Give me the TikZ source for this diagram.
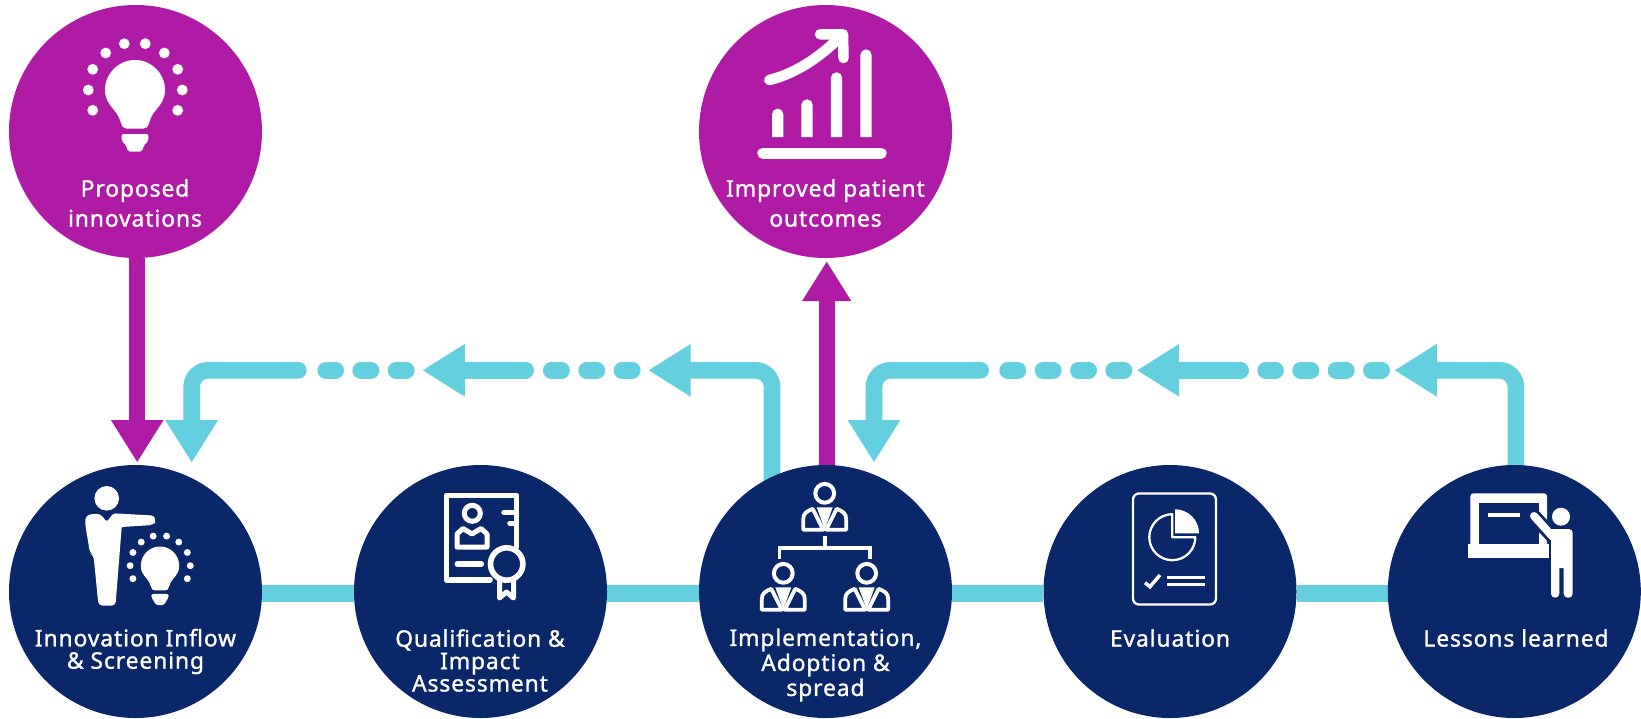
\documentclass[tikz,border=0pt]{standalone}
\usepackage{fontspec}
\setmainfont{Noto Sans}[LetterSpace=4,FakeBold=1.2]
\usetikzlibrary{arrows.meta,backgrounds}
\definecolor{magentaC}{HTML}{B01BA6}
\definecolor{navyC}{HTML}{092769}
\definecolor{tealC}{HTML}{63CFDF}
\tikzset{
  bubble/.style={circle,draw=none,minimum size=253pt,inner sep=0pt},
  magbubble/.style={bubble,fill=magentaC},
  navybubble/.style={bubble,fill=navyC},
  lab/.style={text=white,font=\fontsize{22.8pt}{#1}\selectfont,align=center,inner sep=0pt},
  lab/.default=22.4pt,
  headtip/.style={-{Triangle[length=42.5pt,width=49.5pt]}},
  tealline/.style={draw=tealC,line width=16.6pt},
  maglink/.style={draw=magentaC,line width=16.4pt,headtip},
  retlink/.style={tealline,headtip,line cap=round,rounded corners=16.5pt},
  dotrun/.style={tealline,line cap=round,dash pattern=on 10.3pt off 25.05pt},
  iconfill/.style={fill=white,draw=none},
  iconline/.style={draw=white,line cap=round,line join=round,fill=none},
}
\newcommand\bulbicon[3]{%
  \begin{scope}[shift={(#1,#2)},scale=#3]
    \fill[white] (-30,0) .. controls (-30,-16.6) and (-16.6,-30) .. (0,-30)
      .. controls (16.6,-30) and (30,-16.6) .. (30,0)
      .. controls (30,9) and (26,14) .. (21,20) .. controls (17,25) and (16,27) .. (14,33)
      .. controls (13,37) and (11,38.7) .. (8,38.7) -- (-8,38.7)
      .. controls (-11,38.7) and (-13,37) .. (-14,33) .. controls (-16,27) and (-17,25) .. (-21,20)
      .. controls (-26,14) and (-30,9) .. (-30,0) -- cycle;
    \fill[white,rounded corners=2pt] (-13.4,44) -- (13.4,44) -- (13.4,51) -- (8.6,55.5) -- (7,61.7)
      -- (-7,61.7) -- (-8.6,55.5) -- (-13.4,51) -- cycle;
    \foreach \dx/\dy in {-10.7/-46.3,10.3/-46.3,-29.3/-37,29.3/-37,-42.3/-20.7,42.7/-20.7,-46.7/0,47.3/0,-42.3/20.3,42.7/20.3}
      \fill[white] (\dx,\dy) circle[radius=5.4pt];
  \end{scope}}
\newcommand\orgperson[2]{%
  \begin{scope}[shift={(#1,#2)}]
    \draw[iconline,line width=4pt] (0,0) circle[radius=9.4pt];
    \fill[white] (-8,14) -- (8,14) -- (0,36) -- cycle;
    \draw[draw=white,line width=3.8pt,line join=round] (-21.5,36.4) -- (-21.5,26) .. controls (-21.5,20) and (-18,18) .. (-12,15.5) -- (-1.5,36.4) -- cycle;
    \draw[draw=white,line width=3.8pt,line join=round] (21.5,36.4) -- (21.5,26) .. controls (21.5,20) and (18,18) .. (12,15.5) -- (1.5,36.4) -- cycle;
  \end{scope}}
\newcommand\chartbar[2]{%
  \fill[white] (#1-5.65,137) [rounded corners=5.6pt] -- (#1-5.65,#2) -- (#1+5.65,#2) [sharp corners] -- (#1+5.65,137) -- cycle;}
\begin{document}
\begin{tikzpicture}[x=1pt,y=-1pt]
\useasboundingbox (0,0) rectangle (1641,718);
% circles
\node[magbubble] (prop) at (135.5,131.5) {};
\node[magbubble] (impr) at (825.5,131.5) {};
\node[navybubble] (innov) at (135.5,591.5) {};
\node[navybubble] (qual) at (480.5,591.5) {};
\node[navybubble] (impl) at (825.5,591.5) {};
\node[navybubble] (eval) at (1170,591.5) {};
\node[navybubble] (less) at (1514.3,591.5) {};
% free ends of the return runs
\coordinate (a1) at (648.2,370.3);
\coordinate (a2s) at (632.25,370.3);
\coordinate (a2e) at (551.25,370.3);
\coordinate (a3s) at (525.7,370.3);
\coordinate (a3e) at (422.3,370.3);
\coordinate (a4s) at (406.35,370.3);
\coordinate (a4e) at (325.75,370.3);
\coordinate (a5s) at (298.35,370.3);
\coordinate (a5e) at (191.7,462.7);
\coordinate (b1) at (1394.3,370.3);
\coordinate (b2s) at (1381.65,370.3);
\coordinate (b2e) at (1265.65,370.3);
\coordinate (b3s) at (1240.65,370.3);
\coordinate (b3e) at (1136.7,370.3);
\coordinate (b4s) at (1124,370.3);
\coordinate (b4e) at (1007.65,370.3);
\coordinate (b5s) at (980.65,370.3);
\coordinate (b5e) at (874,462.5);
\begin{scope}[on background layer]
  \fill[white] (0,0) rectangle (1641,718);
  \draw[tealline] ([yshift=-1.8pt]innov.east) -- ([yshift=-1.8pt]qual.west);
  \draw[tealline] ([yshift=-1.8pt]qual.east) -- ([yshift=-1.8pt]impl.west);
  \draw[tealline] ([yshift=-1.8pt]impl.east) -- ([yshift=-1.8pt]eval.west);
  \draw[tealline] ([yshift=-1.8pt]eval.east) -- ([yshift=-1.8pt]less.west);
  \draw[maglink,shorten >=2.3pt] ([xshift=1.7pt]prop.south) -- ([xshift=1.7pt]innov.north);
  \draw[maglink,shorten >=3pt,-{Triangle[length=40pt,width=46.4pt]}] ([xshift=1.2pt,yshift=-10pt]impl.north) -- ([xshift=1.2pt]impr.south);
  \draw[retlink] ([yshift=-15pt]impl.115.7) |- (a1);
  \draw[dotrun] (a2s) -- (a2e);
  \draw[retlink] (a3s) -- (a3e);
  \draw[dotrun] (a4s) -- (a4e);
  \draw[retlink] (a5s) -| (a5e);
  \draw[retlink] ([xshift=1.5pt,yshift=-15pt]less.north) |- (b1);
  \draw[dotrun] (b2s) -- (b2e);
  \draw[retlink] (b3s) -- (b3e);
  \draw[dotrun] (b4s) -- (b4e);
  \draw[retlink] (b5s) -| (b5e);
\end{scope}
% labels
\node[lab=30pt] (tprop) at (135,203) {Proposed\\innovations};
\node[lab=30pt] (timpr) at (825.5,203) {Improved patient\\outcomes};
\node[lab] (tinnov) at (135.5,651.5) {Innovation Inflow\\\&\ Screening};
\node[lab] (tqual) at (480,660.5) {Qualification \&\\Impact\\Assessment};
\node[lab=25pt] (timpl) at (825.5,665) {Implementation,\\Adoption \&\\spread};
\node[lab] (teval) at (1170,638) {Evaluation};
\node[lab] (tless) at (1516,638) {Lessons learned};
% icon: proposed innovations
\bulbicon{135}{90}{1}
% icon: improved outcomes
\chartbar{777.65}{108.7}
\chartbar{807}{99.3}
\chartbar{836.5}{72.3}
\chartbar{866}{49.3}
\draw[iconline,line width=11pt] (762.8,153) -- (881.2,153);
\draw[iconline,line width=10.5pt] (769.3,80) .. controls (790,75) and (815,62) .. (840,37);
\draw[iconline,line width=10.5pt] (820,34.3) -- (843,34.3) -- (843.5,58);
% icon: innovation inflow
\fill[white] (106.7,498.3) circle[radius=12.3pt];
\fill[white,rounded corners=2.5pt] (100,513.3) -- (106.7,522) -- (113.3,513.3) -- (153.3,515.5) [rounded corners=4pt] -- (156.5,520.7) -- (153.3,525) [rounded corners=1pt] -- (121.7,527) [rounded corners=4pt] -- (115.5,605.7) -- (98.5,605.7) -- (93.5,555) -- (90,553.3) -- (85,523) -- (86,515) -- cycle;
\bulbicon{160}{565.7}{.64}
% icon: qualification
\draw[iconline,line width=5.6pt] (516.3,547) -- (516.3,495.3) -- (446.3,495.3) -- (446.3,579.7) -- (490,579.7);
\draw[iconline,line width=5.6pt] (504,512.3) -- (516,512.3);
\draw[iconline,line width=5.6pt] (510,523.3) -- (516,523.3);
\draw[iconline,line width=5pt] (472.3,513.3) circle[radius=8pt];
\draw[iconline,line width=5pt] (457,547) -- (457,534) -- (463,528.5) -- (472,534) -- (481,528.5) -- (487,534) -- (487,547) -- cycle;
\draw[iconline,line width=5.6pt] (457.3,564) -- (481.3,564);
\draw[iconline,line width=5pt] (499.5,580) -- (499.5,598) -- (506.5,592) -- (513.5,598) -- (513.5,580);
\fill[navyC] (506.7,564) circle[radius=14pt];
\draw[iconline,line width=5.6pt] (506.7,564) circle[radius=16.2pt];
% icon: implementation
\orgperson{824.7}{493.3}
\orgperson{783.3}{573.3}
\orgperson{866.7}{573.3}
\draw[draw=white,line width=3.7pt] (824.7,536) -- (824.7,548);
\draw[draw=white,line width=3.7pt] (779.5,559) -- (779.5,548) -- (870,548) -- (870,559);
% icon: evaluation
\draw[draw=white,line width=2.3pt,rounded corners=6pt] (1133,493.5) rectangle (1216,604.5);
\draw[draw=white,line width=2.3pt,line join=round] (1172.3,514.2) .. controls (1159.6,514.2) and (1149.3,524.5) .. (1149.3,537.2)
  .. controls (1149.3,549.9) and (1159.6,560.2) .. (1172.3,560.2)
  .. controls (1185,560.2) and (1195.3,549.9) .. (1195.3,537.2) -- (1172.3,537.2) -- cycle;
\fill[white] (1175,533.3) -- (1175,509.3) .. controls (1188.3,509.3) and (1199,520) .. (1199,533.3) -- cycle;
\draw[draw=white,line width=3.5pt] (1145,582.7) -- (1150,586.7) -- (1160,575);
\draw[draw=white,line width=2.7pt] (1167,577.3) -- (1205,577.3);
\draw[draw=white,line width=2.7pt] (1167,584.3) -- (1205,584.3);
% icon: lessons learned
\fill[white,rounded corners=3pt] (1470.3,550) -- (1470.3,493.3) -- (1547,493.3) -- (1547,550) -- cycle;
\fill[navyC] (1478.7,502.7) rectangle (1539,544);
\fill[white] (1468,544) rectangle (1549.3,557.7);
\fill[white] (1488,512.7) rectangle (1520,517);
\draw[draw=navyC,line width=14pt] (1531,513) -- (1555,539);
\draw[iconline,line width=8pt] (1534,516) -- (1553,537);
\fill[white] (1561,516.7) circle[radius=9pt];
\fill[white] (1551,529) [rounded corners=4pt] -- (1572.7,529) -- (1572.7,597.7) -- (1563.7,597.7) [sharp corners] -- (1563.7,568) -- (1559.3,568) [rounded corners=4pt] -- (1559.3,597.7) -- (1551,597.7) [sharp corners] -- cycle;
\end{tikzpicture}
\end{document}
